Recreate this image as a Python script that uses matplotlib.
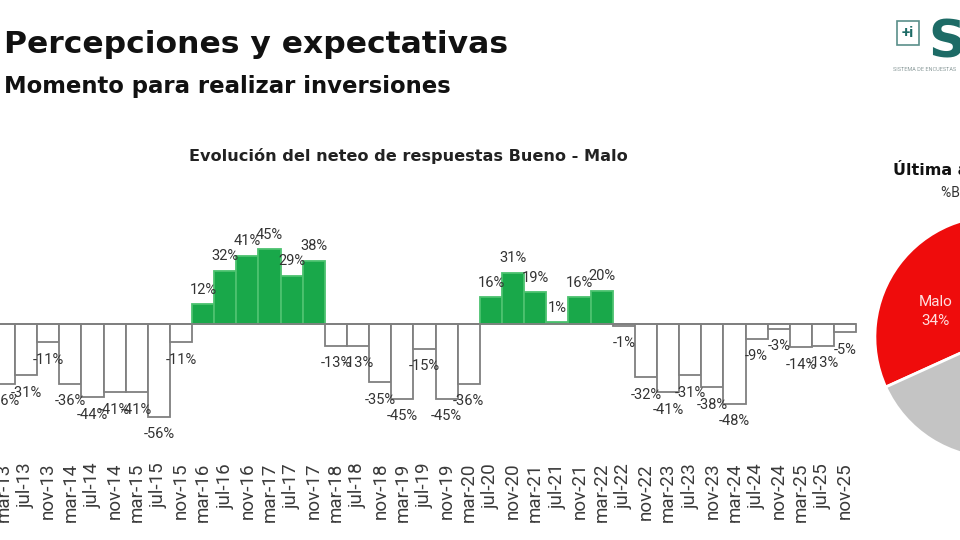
import matplotlib
matplotlib.use("Agg")
import matplotlib.pyplot as plt
import numpy as np

plt.rcParams['font.family'] = ['Roboto', 'DejaVu Sans']

# Datos del grafico de barras (neteo Bueno - Malo)
periodos = ["mar-13", "jul-13", "nov-13", "mar-14", "jul-14", "nov-14", "mar-15", "jul-15", "nov-15",
            "mar-16", "jul-16", "nov-16", "mar-17", "jul-17", "nov-17", "mar-18", "jul-18", "nov-18",
            "mar-19", "jul-19", "nov-19", "mar-20", "jul-20", "nov-20", "mar-21", "jul-21", "nov-21",
            "mar-22", "jul-22", "nov-22", "mar-23", "jul-23", "nov-23", "mar-24", "jul-24", "nov-24",
            "mar-25", "jul-25", "nov-25"]
neteo = [-36, -31, -11, -36, -44, -41, -41, -56, -11,
         12, 32, 41, 45, 29, 38, -13, -13, -35,
         -45, -15, -45, -36, 16, 31, 19, 1, 16,
         20, -1, -32, -41, -31, -38, -48, -9, -3,
         -14, -13, -5]

# Datos de la torta (ultima medicion)
torta_cat = ["Malo", "Regular", "Bueno"]
torta_val = [34, 37, 29]
torta_col = ["#ef0c0c", "#c4c4c4", "#19a84a"]

W, H = 960, 540
fig = plt.figure(figsize=(W / 100, H / 100), dpi=100)

def fx(px):
    return px / W

def fy(py):
    return 1 - py / H

titulo = ['DejaVu Sans']

# Titulos
fig.text(fx(4), fy(53), "Percepciones y expectativas", fontsize=22.6, fontweight="bold",
         color="#111111", va="baseline", family=titulo)
fig.text(fx(4), fy(93), "Momento para realizar inversiones", fontsize=16.4, fontweight="bold",
         color="#111111", va="baseline", family=titulo)
fig.text(fx(408), fy(161), "Evolución del neteo de respuestas Bueno - Malo", fontsize=11.6,
         fontweight="bold", color="#222222", ha="center", va="baseline", family=titulo)

# Barras
ax = fig.add_axes([0, fy(460), fx(860), (460 - 200) / H])
x = np.arange(len(periodos))
vals = np.array(neteo)
colores = np.where(vals > 0, "#19a84a", "#ffffff")
bordes = np.where(vals > 0, "#4cc26f", "#7f7f7f")
ax.bar(x, vals, width=1.0, color=colores, edgecolor=bordes, linewidth=1.3, zorder=2)
ax.hlines(0, -0.5, len(periodos) - 0.5, color="#7f7f7f", linewidth=1.3, zorder=3)

for xi, v in zip(x, vals):
    if v >= 0:
        ax.text(xi, v + 4.5, f"{v}%", ha="center", va="bottom", fontsize=10.5, color="#333333")
    else:
        ax.text(xi, v - 6.3, f"{v}%", ha="center", va="top", fontsize=10.5, color="#333333")

ax.set_xlim(-0.176, 38.67)
ax.set_ylim(-81.9, 74.7)
ax.set_xticks(x)
ax.set_xticklabels(periodos, rotation=90, fontsize=13.5, color="#3a3a3a")
ax.tick_params(axis="x", length=0, pad=2)
ax.set_yticks([])
for s in ax.spines.values():
    s.set_visible(False)
ax.patch.set_alpha(0)

# Torta (recortada en el borde derecho)
cx, cy, r = 996, 337, 123.5
ax2 = fig.add_axes([fx(cx - r), fy(cy + r), 2 * r / W, 2 * r / H])
etiquetas = [f"{c}\n{v}%" for c, v in zip(torta_cat, torta_val)]
wedges, textos = ax2.pie(torta_val, colors=torta_col, startangle=82, counterclock=True,
                         labels=etiquetas, labeldistance=0.55,
                         wedgeprops=dict(edgecolor="white", linewidth=2),
                         textprops=dict(color="#ffdede", fontsize=11, ha="center", va="center",
                                        linespacing=1.5))
# la etiqueta de "Malo" queda un poco mas abajo en el original
ang = np.deg2rad(157)
textos[0].set_position((0.54 * np.cos(ang), 0.54 * np.sin(ang)))
ax2.set_xlim(-1.02, 1.02)
ax2.set_ylim(-1.02, 1.02)
ax2.set_aspect("equal")
ax2.axis("off")

fig.text(fx(893), fy(175), "Última actualización", fontsize=11.5, fontweight="bold",
         color="#111111", va="baseline", family=titulo)
fig.text(fx(941), fy(197), "%Bueno - %Malo", fontsize=10, color="#333333", va="baseline")

# Logo
fig.text(fx(928), fy(57), "S", fontsize=37, fontweight="bold", color="#1d6b66", va="baseline",
         family=titulo)
fig.text(fx(908), fy(33), "+i", fontsize=11, fontweight="bold", color="#1d6b66", ha="center",
         va="center", bbox=dict(boxstyle="square,pad=0.35", fc="white", ec="#5a8f8a", lw=1.2))
fig.text(fx(893), fy(71), "SISTEMA DE ENCUESTAS", fontsize=4, color="#8a9a9a", va="baseline")

fig.savefig("out.png", dpi=100)
